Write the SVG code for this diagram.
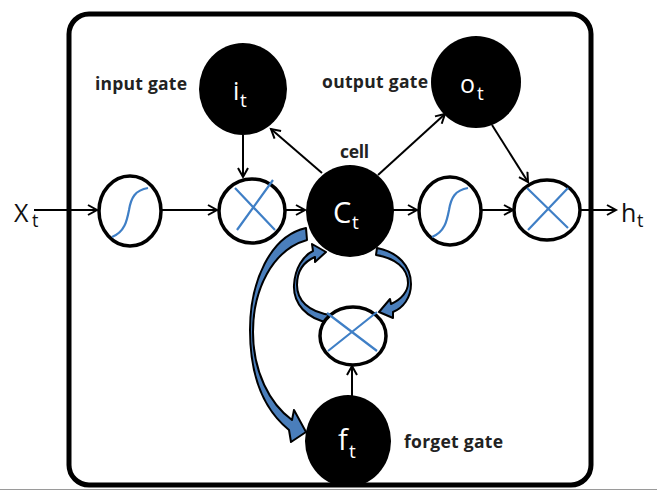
<svg xmlns="http://www.w3.org/2000/svg" width="657" height="491" viewBox="0 0 657 491">
<style>
.gate{fill:#000}
.op{fill:#fff;stroke:#000;stroke-width:3.5}
.cross,.sig{fill:none;stroke:#3f7fc6;stroke-width:2.2}
.conn{fill:none;stroke:#000;stroke-width:2;marker-end:url(#arr)}
.lbl{font-family:"Open Sans","Noto Sans",sans-serif;font-weight:bold;font-size:17.5px;fill:#222}
.in{font-family:"Open Sans","Noto Sans",sans-serif;fill:#fff}
.io{font-family:"Open Sans","Noto Sans",sans-serif;fill:#111}
.blue{fill:#4a7ebb;stroke:#000;stroke-width:2;stroke-linejoin:round}
</style>
<defs>
<marker id="arr" markerUnits="userSpaceOnUse" markerWidth="14" markerHeight="14" refX="11" refY="6" orient="auto">
<path d="M2,1 L11,6 L2,11" fill="none" stroke="#000" stroke-width="2"/>
</marker>
</defs>
<rect width="657" height="491" fill="#fff"/>
<line x1="0" y1="489.5" x2="657" y2="489.5" stroke="#9a9a9a" stroke-width="1"/>
<rect id="frame" x="69" y="14" width="522" height="471" rx="20" fill="none" stroke="#000" stroke-width="5"/>

<g id="connectors">
<path class="conn" d="M34,210 L97,210"/>
<path class="conn" d="M162,210 L217,210"/>
<path class="conn" d="M286,210 L305,210"/>
<path class="conn" d="M243,135 L243,177"/>
<path class="conn" d="M322,173 L271,129"/>
<path class="conn" d="M378,175 L445,114"/>
<path class="conn" d="M393,210 L417,210"/>
<path class="conn" d="M482,210 L513,210"/>
<path class="conn" d="M492,125 L528,182"/>
<path class="conn" d="M580,210 L616,210"/>
<path class="conn" d="M352,396 L352,366"/>
<path class="blue" d="M306,228 C270,236 250,282 250,330 C250,375 262,408 289,430 L291,442 L306,432 L294,410 L292,420 C270,404 253,372 253,332 C253,290 272,250 307,240 Z"/>
<path class="blue" d="M330,323 C306,319 293,303 294,285 C295,268 303,256 313,251 L312,244 L326,252 L315,262 L315,257 C303,262 297,272 297,285 C297,300 308,312 331,315 Z"/>
<path class="blue" d="M377,248 C398,252 411,266 411,284 C411,298 403,308 393,312 L393,318 L379,312 L390,299 L391,304 C402,299 408,291 408,283 C408,268 395,258 376,255 Z"/>
</g>

<g id="xt">
<text class="io" x="14" y="222" font-size="25">X</text>
<text class="io" x="32" y="227" font-size="18">t</text>
</g>
<g id="ht">
<text class="io" x="621" y="222" font-size="25">h</text>
<text class="io" x="637" y="227" font-size="18">t</text>
</g>

<g id="sigmoid1">
<ellipse class="op" cx="130" cy="211" rx="31" ry="35"/>
<path class="sig" d="M112,237 C125,232 127,220 129,210 C131,198 135,190 148,188"/>
</g>
<g id="mult1">
<ellipse class="op" cx="252" cy="211" rx="33" ry="32"/>
<path class="cross" d="M235,188 L275,230 M273,180 L237,230"/>
</g>
<g id="sigmoid2">
<ellipse class="op" cx="450" cy="211" rx="31" ry="34"/>
<path class="sig" d="M432,237 C445,232 447,220 449,210 C451,198 455,190 468,188"/>
</g>
<g id="mult2">
<ellipse class="op" cx="547" cy="210" rx="33" ry="30"/>
<path class="cross" d="M527,188 L568,228 M568,188 L528,230"/>
</g>
<g id="mult3">
<ellipse class="op" cx="353" cy="336" rx="33" ry="29"/>
<path class="cross" d="M327,313 L377,351 M377,312 L328,351"/>
</g>

<g id="it">
<ellipse class="gate" cx="243" cy="89" rx="44" ry="46"/>
<text class="in" x="233" y="100" font-size="25">i</text>
<text class="in" x="240" y="107" font-size="19">t</text>
</g>
<g id="ot">
<ellipse class="gate" cx="476" cy="82" rx="45" ry="46"/>
<text class="in" x="460" y="93" font-size="25">o</text>
<text class="in" x="477" y="100" font-size="19">t</text>
</g>
<g id="ct">
<ellipse class="gate" cx="350" cy="211" rx="44" ry="46"/>
<text class="in" x="333" y="223" font-size="29">C</text>
<text class="in" x="352" y="229" font-size="19">t</text>
</g>
<g id="ft">
<ellipse class="gate" cx="348" cy="441" rx="43" ry="46"/>
<text class="in" x="338" y="450" font-size="29">f</text>
<text class="in" x="349" y="458" font-size="19">t</text>
</g>

<g id="labels">
<text class="lbl" x="95" y="90" textLength="92">input gate</text>
<text class="lbl" x="322" y="88" textLength="106">output gate</text>
<text class="lbl" x="340" y="158" textLength="29">cell</text>
<text class="lbl" x="404" y="448" textLength="99">forget gate</text>
</g>
</svg>
